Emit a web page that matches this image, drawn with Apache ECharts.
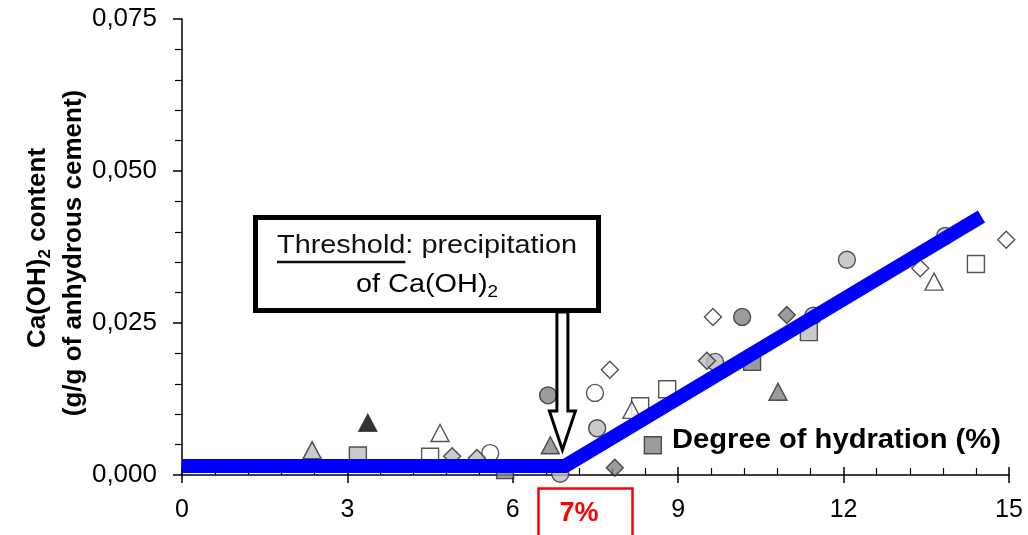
<!DOCTYPE html>
<html><head><meta charset="utf-8">
<script src="https://cdn.jsdelivr.net/npm/echarts@6/dist/echarts.min.js"></script>
<style>html,body{margin:0;padding:0;background:#fff}#c{width:1028px;height:535px}</style>
</head><body><div id="c"></div>
<script>
// ---- data ----
const xTickLabels = ['0', '3', '6', '9', '12', '15'];
const yTickLabels = ['0,000', '0,025', '0,050', '0,075'];
const trendLine = [[0, 0.0015], [6.95, 0.0015], [14.5, 0.0425]];

const lightGrayCircle = [[6.86, 0.0002], [7.53, 0.0077], [9.67, 0.0186], [11.45, 0.0262], [12.06, 0.0354], [13.84, 0.0393]];
const darkGrayCircle = [[6.64, 0.0131], [10.16, 0.0260]];
const openCircle = [[5.59, 0.0036], [7.49, 0.0135]];
const lightGraySquare = [[3.19, 0.0032], [11.37, 0.0235]];
const darkGraySquare = [[5.86, 0.0008], [8.54, 0.0049], [10.34, 0.0186]];
const openSquare = [[4.50, 0.0030], [8.31, 0.0113], [8.80, 0.0141], [14.40, 0.0347]];
const lightGrayTriangle = [[2.36, 0.0041]];
const darkGrayTriangle = [[6.68, 0.0049], [10.81, 0.0137]];
const blackTriangle = [[3.37, 0.0086]];
const openTriangle = [[4.68, 0.0069], [8.16, 0.0107], [13.64, 0.0318]];
const lightGrayDiamond = [[4.90, 0.0031], [5.35, 0.0028], [9.52, 0.0188]];
const darkGrayDiamond = [[7.85, 0.0012], [10.97, 0.0263]];
const openDiamond = [[7.76, 0.0173], [9.63, 0.0260], [13.39, 0.0340], [14.95, 0.0387]];

// ---- styles ----
const FONT = '"Liberation Sans", Arial, sans-serif';
const LG = '#bdbdbd', DG = '#828282', WH = '#ffffff', BK = '#000000';
const groups = [
  [lightGrayCircle, 'circle', 17, LG],
  [darkGrayCircle, 'circle', 17, DG],
  [openCircle, 'circle', 17, WH],
  [lightGraySquare, 'rect', 17, LG],
  [darkGraySquare, 'rect', 17, DG],
  [openSquare, 'rect', 17, WH],
  [lightGrayTriangle, 'triangle', [18, 17], LG],
  [darkGrayTriangle, 'triangle', [18, 17], DG],
  [blackTriangle, 'triangle', [18, 17], BK],
  [openTriangle, 'triangle', [18, 17], WH],
  [lightGrayDiamond, 'diamond', 17, LG],
  [darkGrayDiamond, 'diamond', 17, DG],
  [openDiamond, 'diamond', 17, WH]
];

const chart = echarts.init(document.getElementById('c'), null, {renderer: 'canvas'});

const series = groups.map(g => ({
  type: 'scatter',
  data: g[0],
  symbol: g[1],
  symbolSize: g[2],
  z: 2,
  itemStyle: {color: g[3], borderColor: '#2a2a2a', borderWidth: 1.4},
  emphasis: {disabled: true},
  animation: false
}));
series.push({
  type: 'line',
  data: trendLine,
  symbol: 'none',
  z: 3,
  lineStyle: {color: '#0000ff', width: 14, cap: 'butt', join: 'miter'},
  animation: false
});

chart.setOption({
  animation: false,
  backgroundColor: '#fff',
  grid: {left: 182, top: 19, width: 827, height: 456},
  xAxis: [{
    type: 'value', position: 'bottom', min: 0, max: 15, interval: 3,
    axisLine: {lineStyle: {color: '#000', width: 1.5}},
    axisTick: {show: true, inside: false, length: 8, lineStyle: {color: '#000', width: 1.5}},
    axisLabel: {color: '#000', fontSize: 25, fontFamily: FONT, margin: 23,
      formatter: (v) => xTickLabels[Math.round(v / 3)]},
    splitLine: {show: false}
  }, {
    type: 'value', position: 'bottom', min: 0, max: 15, interval: 3,
    axisLine: {show: false},
    axisTick: {show: true, inside: true, length: 8, lineStyle: {color: '#000', width: 1.5}},
    minorTick: {show: true, splitNumber: 5, length: 7, lineStyle: {color: '#000', width: 1.2}},
    axisLabel: {show: false},
    splitLine: {show: false}
  }],
  yAxis: {
    type: 'value', min: 0, max: 0.075, interval: 0.025,
    axisLine: {show: true, lineStyle: {color: '#000', width: 1.5}},
    axisTick: {show: true, inside: false, length: 9, lineStyle: {color: '#000', width: 1.5}},
    minorTick: {show: true, splitNumber: 5, length: 7, lineStyle: {color: '#000', width: 1.2}},
    axisLabel: {color: '#000', fontSize: 26, fontFamily: FONT, margin: 25,
      formatter: (v) => yTickLabels[Math.round(v / 0.025)]},
    splitLine: {show: false}
  },
  series: series
});

// ---- annotations ----
const tip = chart.convertToPixel({gridIndex: 0}, [6.9, 0.0041]);
const cx = tip[0];
const boxCx = 427;
const mctx = document.createElement('canvas').getContext('2d');
mctx.font = '26px ' + FONT;
const sx = 1.11;
const fullW = mctx.measureText('Threshold: precipitation').width * sx;
const thW = mctx.measureText('Threshold').width * sx;
const ulStart = boxCx - fullW / 2;

const subRich = (size) => ({
  m: {fontSize: size, fontFamily: FONT, lineHeight: size + 6, fill: '#000'},
  s: {fontSize: Math.round(size * 0.65), fontFamily: FONT, verticalAlign: 'bottom', lineHeight: Math.round(size * 0.65), fill: '#000'}
});
const subRichBold = (size) => ({
  m: {fontSize: size, fontFamily: FONT, fontWeight: 'bold', lineHeight: size + 6, fill: '#000'},
  s: {fontSize: Math.round(size * 0.65), fontFamily: FONT, fontWeight: 'bold', verticalAlign: 'bottom', lineHeight: Math.round(size * 0.65), fill: '#000'}
});

chart.setOption({
  graphic: [
    // arrow
    {type: 'polygon', z: 10, shape: {points: [
      [cx - 5.5, 312], [cx + 5.5, 312], [cx + 5.5, 411], [cx + 13, 411],
      [cx, tip[1]], [cx - 13, 411], [cx - 5.5, 411]]},
     style: {fill: '#fff', stroke: '#000', lineWidth: 3, lineJoin: 'miter'}},
    // box
    {type: 'rect', z: 11, shape: {x: 255.5, y: 217.5, width: 343, height: 93},
     style: {fill: '#fff', stroke: '#000', lineWidth: 5}},
    {type: 'text', z: 12, x: boxCx, y: 246, scaleX: sx,
     style: {text: 'Threshold: precipitation', font: '26px ' + FONT, fill: '#111', align: 'center', verticalAlign: 'middle'}},
    {type: 'line', z: 12, shape: {x1: ulStart, y1: 262, x2: ulStart + thW, y2: 262},
     style: {stroke: '#111', lineWidth: 2.5}},
    {type: 'text', z: 12, x: boxCx, y: 285, scaleX: sx,
     style: {text: '{m|of Ca(OH)}{s|2}', rich: subRich(26), align: 'center', verticalAlign: 'middle'}},
    // x title
    {type: 'text', z: 12, x: 672, y: 441, scaleX: 1.08,
     style: {text: 'Degree of hydration (%)', font: 'bold 27px ' + FONT, fill: '#000', align: 'left', verticalAlign: 'middle'}},
    // y title
    {type: 'text', z: 12, x: 38, y: 248, rotation: Math.PI / 2,
     style: {text: '{m|Ca(OH)}{s|2}{m| content}', rich: subRichBold(26), align: 'center', verticalAlign: 'middle'}},
    {type: 'text', z: 12, x: 74, y: 253, rotation: Math.PI / 2,
     style: {text: '(g/g of anhydrous cement)', font: 'bold 26px ' + FONT, fill: '#000', align: 'center', verticalAlign: 'middle'}},
    // 7% red box
    {type: 'rect', z: 12, shape: {x: 538.5, y: 488.5, width: 94, height: 60},
     style: {fill: 'none', stroke: '#ff0000', lineWidth: 2.5}},
    {type: 'text', z: 12, x: 579, y: 514,
     style: {text: '7%', font: 'bold 27px ' + FONT, fill: '#ff0000', align: 'center', verticalAlign: 'middle'}}
  ]
});
</script>
</body></html>
